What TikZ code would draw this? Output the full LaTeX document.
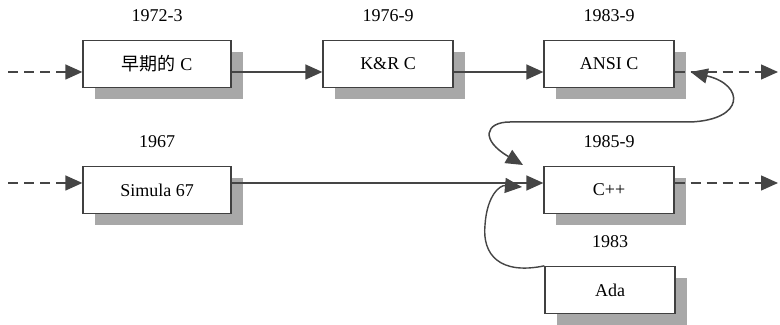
\documentclass[tikz,border=0pt]{standalone}
\usepackage{fontspec}
\setmainfont{Liberation Serif}
\newfontfamily\cjk{Noto Sans CJK SC}
\usepackage{tikz}
\usetikzlibrary{arrows.meta,shadows}
\definecolor{lnk}{HTML}{454545}
\definecolor{shd}{HTML}{A8A8A8}
\tikzset{
  evbox/.style={draw=black!75,fill=white,line width=0.65pt,minimum height=23.5pt,inner sep=2pt,
    general shadow={fill=shd,shadow xshift=6pt,shadow yshift=-6pt}},
  widebox/.style={evbox,minimum width=74pt},
  narrowbox/.style={evbox,minimum width=65pt},
  yrlabel/.style={label distance=5.5pt},
  seqedge/.style={-{Triangle[length=8.5pt,width=7.5pt]},lnk,line width=0.7pt},
  preedge/.style={seqedge,dash pattern=on 5pt off 3pt},
  linkedge/.style={{Triangle[length=8.5pt,width=7.5pt]}-{Triangle[length=8.5pt,width=7.5pt]},lnk,line width=0.75pt},
}

\begin{document}
\begin{tikzpicture}[x=0.5pt,y=0.5pt,font=\fontsize{9}{11}\selectfont]
  \useasboundingbox (0,0) rectangle (780,325);
  % C line
  \node[widebox,label={[yrlabel]above:1972-3}] (nEarly) at (157,261) {{\cjk 早期的} C};
  \node[narrowbox,label={[yrlabel]above:1976-9}] (nKR) at (388,261) {K\&R C};
  \node[narrowbox,label={[yrlabel]above:1983-9}] (nAnsi) at (609,261) {ANSI C};
  % Simula line
  \node[widebox,label={[yrlabel]above:1967}] (nSimula) at (157,135) {Simula 67};
  \node[narrowbox,label={[yrlabel]above:1985-9}] (nCpp) at (609,135) {C++};
  \node[narrowbox,label={[yrlabel]above:1983}] (nAda) at (610,35) {Ada};
  \coordinate (cIn1) at (8,253);
  \coordinate (cOut1) at (778,253);
  \coordinate (cIn2) at (8,142);
  \coordinate (cOut2) at (778,142);
  \coordinate (cCppA) at (523,160);
  \coordinate (cCppB) at (522,138);
  \draw[preedge] (cIn1) -- ([yshift=-4pt]nEarly.west);
  \draw[seqedge] ([yshift=-4pt]nEarly.east) -- ([yshift=-4pt]nKR.west);
  \draw[seqedge] ([yshift=-4pt]nKR.east) -- ([yshift=-4pt]nAnsi.west);
  \draw[preedge] ([yshift=-4pt]nAnsi.east) -- (cOut1);
  \draw[preedge] (cIn2) -- ([yshift=3.5pt]nSimula.west);
  \draw[seqedge] ([yshift=3.5pt]nSimula.east) -- ([yshift=3.5pt]nCpp.west);
  \draw[preedge] ([yshift=3.5pt]nCpp.east) -- (cOut2);
  \draw[linkedge] ([xshift=8pt,yshift=-4pt]nAnsi.east)
    .. controls (745,240) and (745,205) .. (690,203) -- (510,203)
    .. controls (485,203) and (480,185) .. (cCppA);
  \draw[seqedge] (nAda.north west) .. controls (500,50) and (482,70) .. (485,100)
    .. controls (487,130) and (500,140) .. (cCppB);
\end{tikzpicture}
\end{document}
